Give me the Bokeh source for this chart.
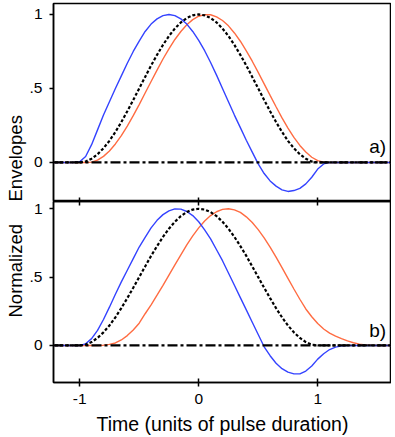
from bokeh.plotting import figure
from bokeh.models import Range1d, FixedTicker, LinearAxis, Span, Label, Title
from bokeh.layouts import column
from bokeh.embed import file_html
from bokeh.resources import INLINE

# ---------------- data ----------------
t = [-1.25, -1.2, -1.15, -1.1, -1.05, -1.0, -0.95, -0.9, -0.85, -0.8, -0.75, -0.7,
     -0.65, -0.6, -0.55, -0.5, -0.45, -0.4, -0.35, -0.3, -0.25, -0.2, -0.15, -0.1,
     -0.05, 0.0, 0.05, 0.1, 0.15, 0.2, 0.25, 0.3, 0.35, 0.4, 0.45, 0.5, 0.55, 0.6,
     0.65, 0.7, 0.75, 0.8, 0.85, 0.9, 0.95, 1.0, 1.05, 1.1, 1.15, 1.2, 1.25, 1.3,
     1.35, 1.4, 1.45, 1.5, 1.55, 1.6, 1.65]

# reference pulse envelope (black dotted, same in both panels)
ref_pulse = [0, 0, 0, 0, 0, 0,
             0.006, 0.025, 0.055, 0.096, 0.146, 0.206, 0.273, 0.346, 0.422, 0.5,
             0.578, 0.655, 0.727, 0.794, 0.854, 0.905, 0.946, 0.976, 0.994,
             1.0,
             0.994, 0.976, 0.946, 0.905, 0.854, 0.794, 0.727, 0.655, 0.578, 0.5,
             0.422, 0.346, 0.273, 0.206, 0.146, 0.096, 0.055, 0.025, 0.006,
             0, 0, 0, 0, 0, 0, 0, 0, 0, 0, 0, 0, 0, 0]

# panel a)
blue_a = [0, 0, 0, 0, 0,
          0.005, 0.04, 0.12, 0.22, 0.32, 0.41, 0.5, 0.585, 0.67, 0.75, 0.82,
          0.885, 0.935, 0.97, 0.992, 1.0, 0.992, 0.97, 0.935, 0.885, 0.825,
          0.755, 0.675, 0.59, 0.5, 0.41, 0.32, 0.235, 0.15, 0.07, -0.01,
          -0.075, -0.125, -0.16, -0.185, -0.196, -0.19, -0.175, -0.145, -0.1,
          -0.045, -0.01,
          0, 0, 0, 0, 0, 0, 0, 0, 0, 0, 0, 0]
orange_a = [0, 0, 0, 0, 0, 0, 0,
            0.002, 0.016, 0.041, 0.077, 0.125, 0.181, 0.246, 0.316, 0.391, 0.469,
            0.547, 0.624, 0.699, 0.768, 0.831, 0.885, 0.93, 0.965, 0.988, 0.999,
            0.998, 0.984, 0.959, 0.923, 0.875, 0.819, 0.754, 0.684, 0.609, 0.531,
            0.453, 0.376, 0.301, 0.232, 0.169, 0.115, 0.07, 0.035, 0.012, 0.001,
            0, 0, 0, 0, 0, 0, 0, 0, 0, 0, 0, 0]

# panel b)
blue_b = [0, 0, 0, 0, 0,
          0.0, 0.012, 0.05, 0.11, 0.19, 0.28, 0.375, 0.465, 0.55, 0.635, 0.72,
          0.79, 0.86, 0.915, 0.957, 0.985, 0.999, 0.997, 0.98, 0.95, 0.905,
          0.845, 0.78, 0.7, 0.62, 0.53, 0.44, 0.35, 0.26, 0.17, 0.08, -0.01,
          -0.075, -0.13, -0.17, -0.195, -0.208, -0.208, -0.187, -0.15, -0.1,
          -0.061, -0.03, -0.012, -0.003,
          0, 0, 0, 0, 0, 0, 0, 0, 0]
orange_b = [0, 0, 0, 0, 0, 0, 0, 0, 0,
            0.002, 0.008, 0.018, 0.04, 0.072, 0.113, 0.163, 0.232, 0.297, 0.368,
            0.44, 0.515, 0.59, 0.663, 0.735, 0.801, 0.86, 0.91, 0.95, 0.978,
            0.995, 1.0, 0.992, 0.973, 0.941, 0.899, 0.847, 0.787, 0.719, 0.646,
            0.569, 0.491, 0.413, 0.338, 0.267, 0.21, 0.16, 0.12, 0.09, 0.068,
            0.05, 0.033, 0.02, 0.01, 0.004, 0.001,
            0, 0, 0, 0]

x_ticks = [-1, 0, 1]
x_tick_labels = ["-1", "0", "1"]
y_ticks = [0, 0.5, 1]
y_tick_labels = ["0", ".5", "1"]
panel_tags = ["a)", "b)"]
y_title_words = ["Normalized", "Envelopes"]
x_title = "Time (units of pulse duration)"

# ---------------- styling ----------------
FONT = "Liberation Sans"
BLUE = "#3443ff"
ORANGE = "#ff6c42"
X_RANGE = (-1.22, 1.62)
FIG_W = 391


def style_axis(ax, ticks, labels, show_labels, tick_in, tick_out):
    ax.ticker = FixedTicker(ticks=ticks)
    ax.major_label_overrides = {float(v): s for v, s in zip(ticks, labels)}
    ax.axis_line_color = "black"
    ax.axis_line_width = 1.5
    ax.major_tick_line_color = "black"
    ax.major_tick_line_width = 1.5
    ax.major_tick_in = tick_in
    ax.major_tick_out = tick_out
    ax.minor_tick_line_color = None
    ax.major_label_text_font = FONT
    if show_labels:
        ax.major_label_text_color = "black"
        ax.major_label_text_font_size = "15.5px"
        ax.major_label_standoff = 7
    else:
        ax.major_label_text_color = None
        ax.major_label_text_font_size = "0px"
        ax.major_label_standoff = 0


def make_panel(height, y_range, blue, orange, tag, tag_y, top_border, bottom_border,
               is_bottom, word, word_offset):
    p = figure(width=FIG_W, height=height,
               x_range=Range1d(*X_RANGE), y_range=Range1d(*y_range),
               x_axis_type=None, y_axis_type=None,
               output_backend="svg", toolbar_location=None,
               min_border_left=53, min_border_right=0,
               min_border_top=top_border, min_border_bottom=bottom_border,
               background_fill_color="white", border_fill_color="white")
    p.outline_line_color = "black"
    p.outline_line_width = 1.5

    yax = LinearAxis()
    style_axis(yax, y_ticks, y_tick_labels, True, 0, 4)
    p.add_layout(yax, "left")

    if is_bottom:
        top_ax = LinearAxis()
        style_axis(top_ax, x_ticks, x_tick_labels, False, 4, 0)
        p.add_layout(top_ax, "above")
        bax = LinearAxis()
        style_axis(bax, x_ticks, x_tick_labels, True, 4, 4)
        bax.axis_label = x_title
        bax.axis_label_text_font = FONT
        bax.axis_label_text_font_size = "19.5px"
        bax.axis_label_text_font_style = "normal"
        bax.axis_label_text_color = "black"
        bax.axis_label_standoff = 6
        p.add_layout(bax, "below")
    else:
        bax = LinearAxis()
        style_axis(bax, x_ticks, x_tick_labels, False, 4, 0)
        p.add_layout(bax, "below")

    # part of the shared y-axis title, written in the left margin
    p.add_layout(Title(text=word, align="left", offset=word_offset, standoff=2,
                       text_font=FONT, text_font_size="18.5px",
                       text_font_style="normal", text_color="black"), "left")

    p.line(t, orange, line_color=ORANGE, line_width=1.4)
    p.line(t, blue, line_color=BLUE, line_width=1.4)
    p.line(t, ref_pulse, line_color="black", line_width=2.2, line_dash="3 2")
    p.add_layout(Span(location=0, dimension="width", line_color="black",
                      line_width=2.2, line_dash="10 3 3 3"))
    p.add_layout(Label(x=1.575, y=tag_y, text=tag, text_align="right",
                       text_baseline="alphabetic", text_font=FONT,
                       text_font_size="19px", text_color="black"))
    return p


fa = make_panel(201, (-0.264, 1.074), blue_a, orange_a, panel_tags[0], 0.105, 3, 0,
                False, y_title_words[1], 0)
fb = make_panel(236, (-0.271, 1.053), blue_b, orange_b, panel_tags[1], 0.11, 0, 55,
                True, y_title_words[0], 65)

layout = column(fa, fb, spacing=0)

with open("out.html", "w") as f:
    f.write(file_html(layout, INLINE))
